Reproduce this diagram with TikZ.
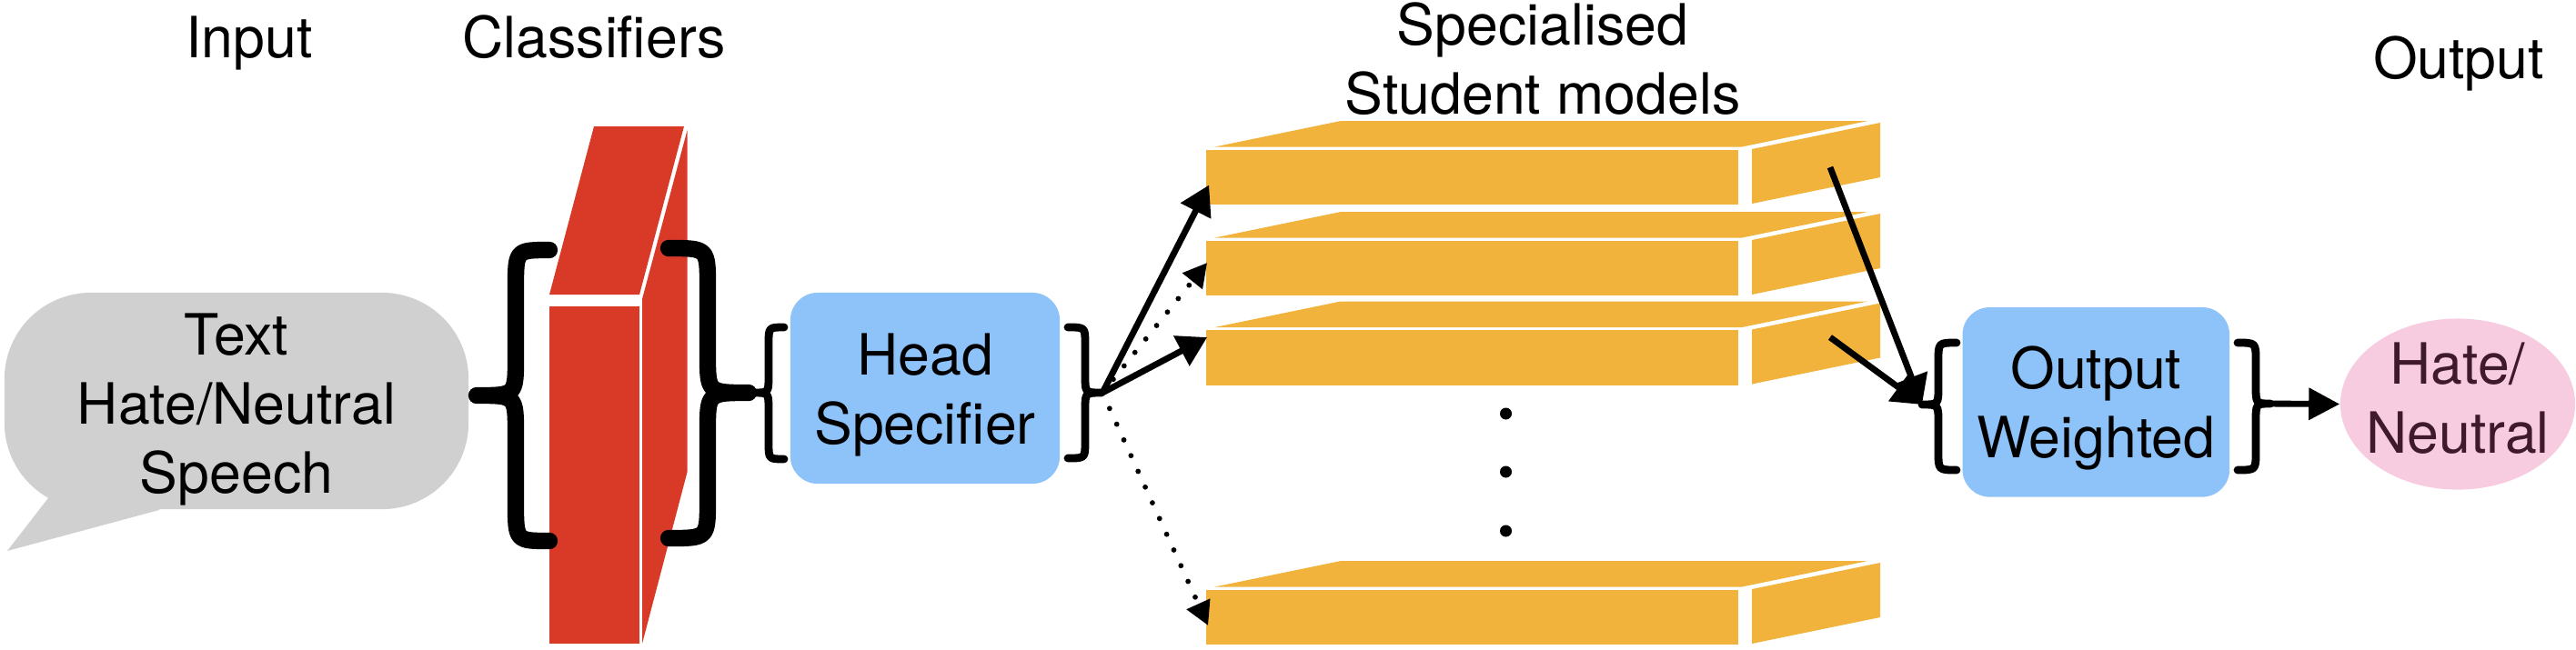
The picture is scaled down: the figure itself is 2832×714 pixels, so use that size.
\documentclass[tikz,border=0pt]{standalone}
\usepackage{fontspec}
\setmainfont{TeX Gyre Heros}
\usetikzlibrary{arrows.meta,calc,shapes.geometric}
\definecolor{bubblegray}{HTML}{D0D0D0}
\definecolor{clsred}{HTML}{D93A28}
\definecolor{stuyel}{HTML}{F2B33D}
\definecolor{hsblue}{HTML}{8EC3F9}
\definecolor{outpink}{HTML}{F8CCE0}
\definecolor{outtext}{HTML}{3E1A2C}
% brace: style, x end, x vertical, x tip, y top, y tip, y bottom, curl
\newcommand\brc[8]{\draw[#1] (#2,#5) .. controls (#3,#5) .. (#3,#5+#8) -- (#3,#6-#8) .. controls (#3,#6) .. (#4,#6) .. controls (#3,#6) .. (#3,#6+#8) -- (#3,#7-#8) .. controls (#3,#7) .. (#2,#7);}
% student model slab: name, top y of front face
\newcommand\ybox[2]{%
  \fill[stuyel] (1335,#2-3.4) -- (1914.6,#2-3.4) -- (2053.5,#2-32) -- (1474,#2-32) -- cycle;
  \fill[stuyel] (1926,#2-1) -- (2067,#2-30) -- (2067,#2+30) -- (1926,#2+59) -- cycle;
  \node[yfront] (#1) at (1618.5,#2+30) {};}
\begin{document}
\begin{tikzpicture}[x=0.01cm,y=-0.01cm,
  font=\fontsize{17.8pt}{21.62pt}\selectfont,
  bigbrace/.style={line width=5.2pt,line cap=round,line join=round},
  smallbrace/.style={line width=2.5pt,line cap=round,line join=round},
  solidarr/.style={line width=1.95pt,-{Triangle[length=0.32cm,width=0.36cm]}},
  dotarr/.style={line width=1.65pt,line cap=round,dash pattern=on 0pt off 5.4pt,-{Triangle[length=0.26cm,width=0.27cm]}},
  outarr/.style={line width=1.95pt,-{Triangle[length=0.34cm,width=0.34cm]}},
  yfront/.style={fill=stuyel,minimum width=5.85cm,minimum height=0.6cm,inner sep=0pt},
  hsbox/.style={fill=hsblue,rounded corners=0.3cm,inner sep=0pt,align=center},
  title/.style={anchor=base}]
\useasboundingbox (0,0) rectangle (2832,714);

% titles
\node[title] (tin) at (274,63) {Input};
\node[title] (tcls) at (653,63) {Classifiers};
\node[align=center,inner sep=0pt] (tstu) at (1696,68) {\rule{0pt}{0.5cm}Specialised\\Student models\rule[-0.12cm]{0pt}{0.12cm}};
\node[title] (tout) at (2703,86.5) {Output};

% input speech bubble
\fill[bubblegray] (66,531) -- (8,606) -- (175,561) -- (175,530) -- cycle;
\node[fill=bubblegray,rounded corners=0.95cm,minimum width=5.1cm,minimum height=2.38cm,inner sep=0pt,align=center] (bubble) at (260,441)
  {\rule{0pt}{0.64cm}Text\\Hate/Neutral\\Speech\rule[-0.14cm]{0pt}{0.14cm}};

% classifier block
\fill[clsred] (604,337) rectangle (703,708);
\fill[clsred] (604,324) -- (703,324) -- (752,139) -- (653,139) -- cycle;
\fill[clsred] (706,329) -- (755.6,143) -- (755.6,519) -- (706,708) -- cycle;

% braces around classifier
\brc{bigbrace}{604}{567}{524}{275}{435}{595}{42}
\brc{bigbrace}{735}{778}{823}{273}{432}{592}{42}

% head specifier
\node[hsbox,minimum width=2.96cm,minimum height=2.1cm] (hs) at (1017,427)
  {\rule{0pt}{0.61cm}Head\\Specifier\rule[-0.14cm]{0pt}{0.14cm}};
\brc{smallbrace}{862}{845}{828}{360}{432}{505}{18}
\brc{smallbrace}{1174}{1193}{1211}{360}{432}{504}{18}
\coordinate (hsR) at (1212,432);

% student models
\ybox{s1}{165}
\ybox{s2}{265}
\ybox{s3}{363.5}
\ybox{s4}{649}
\fill (1655.5,455) circle (0.065cm);
\fill (1655.5,519) circle (0.065cm);
\fill (1655.5,584) circle (0.065cm);

% arrows to student models
\draw[solidarr] (hsR) -- ($(s1.west)+(4,8.5)$);
\draw[dotarr] (hsR) -- ($(s2.west)+(2,-6)$);
\draw[solidarr] (hsR) -- ($(s3.west)+(2,-22.5)$);
\draw[dotarr] (hsR) -- ($(s4.west)+(3,9)$);

% output weighted
\node[hsbox,minimum width=2.934cm,minimum height=2.085cm] (ow) at (2304.3,442.3)
  {\rule{0pt}{0.60cm}Output\\Weighted\rule[-0.14cm]{0pt}{0.14cm}};
\brc{smallbrace}{2151}{2131}{2113}{377}{445}{517}{20}
\brc{smallbrace}{2460}{2480}{2496}{377}{444}{517}{20}
\coordinate (owL) at (2113,445);
\coordinate (owR) at (2493,444);
\coordinate (a1) at (2012,184);
\coordinate (a3) at (2012,371);
\draw[solidarr] (a1) -- (owL);
\draw[solidarr] (a3) -- (owL);

% result
\node[ellipse,fill=outpink,minimum width=2.58cm,minimum height=1.88cm,inner sep=-0.5cm,align=center,text=outtext] (res) at (2702,444.5)
  {\rule{0pt}{0.50cm}Hate/\\Neutral\rule[-0.18cm]{0pt}{0.18cm}};
\draw[outarr] (owR) -- (res.west);
\end{tikzpicture}
\end{document}
